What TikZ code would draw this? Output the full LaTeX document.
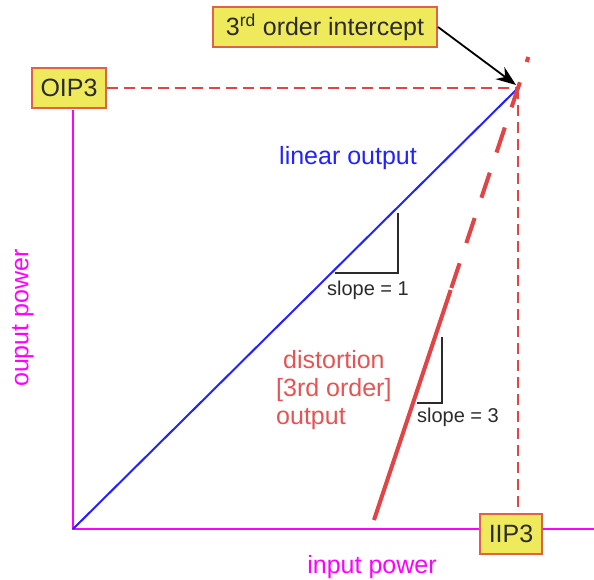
\documentclass[tikz,border=0pt]{standalone}
\usepackage{fontspec}
\setmainfont{Liberation Sans}
\usetikzlibrary{arrows.meta}
\definecolor{axismag}{HTML}{FF00FF}
\definecolor{linblue}{HTML}{2222FF}
\definecolor{distred}{HTML}{E04444}
\definecolor{labelred}{HTML}{E45454}
\definecolor{boxfill}{HTML}{EEEA5C}
\definecolor{boxedge}{HTML}{E06048}
\definecolor{inktext}{HTML}{2B2B2B}
\begin{document}
\begin{tikzpicture}[x=1pt,y=-1pt,
  tag/.style={draw=boxedge, line width=2pt, fill=boxfill, text=inktext,
    font=\fontsize{25}{28}\selectfont, inner sep=0pt, minimum height=40pt},
  lbl/.style={font=\fontsize{25}{28}\selectfont},
  small/.style={font=\fontsize{20}{24}\selectfont, text=inktext, inner sep=0pt},
  guide/.style={distred, line width=1.8pt, dash pattern=on 11pt off 6pt},
  tickline/.style={inktext, line width=2pt},
  thirdline/.style={distred, line width=4pt}]
\useasboundingbox (0,0) rectangle (594,579);

% key points
\coordinate (O) at (73,529);
\coordinate (P) at (518,88);
\coordinate (Ptip) at (516,85);
\coordinate (Ytop) at (73,110);
\coordinate (Xend) at (594,529);
\coordinate (Rtop) at (528.33,57);
\coordinate (Rdash) at (451.33,288);
\coordinate (Rsolid) at (450.67,290);
\coordinate (Rbot) at (374,520);

% axes
\draw[axismag, line width=2pt] (Ytop) -- (O) -- (Xend);

% linear output, slope 1
\draw[linblue, line width=2pt] (O) -- (P);

% third-order output, slope 3
\draw[thirdline, dash pattern=on 26.4pt off 21.3pt, dash phase=21.1pt] (Rtop) -- (Rdash);
\draw[thirdline] (Rsolid) -- (Rbot);

% boxes
\node[tag, minimum width=74pt] (oip) at (69,88) {OIP3};
\node[tag, minimum width=62pt] (iip) at (511,534) {IIP3};
\node[tag, minimum width=224pt] (icpt) at (325,27) {3\textsuperscript{rd} order intercept};

% projections of the intercept
\draw[guide] (oip.east) -- (P);
\draw[guide] (P) -- (P |- iip.north);

% callout arrow
\draw[-{Stealth[length=20pt,width=15pt]}, line width=1.8pt] (icpt.east) -- (Ptip);

% slope markers
\draw[tickline] (335,273) -| (398,213);
\node[small] (s1) at (368,290) {slope = 1};
\draw[tickline] (417,403) -| (442,337);
\node[small] (s3) at (458,417) {slope = 3};

% labels
\node[lbl, text=linblue] (lin) at (348,158) {linear output};
\node[lbl, text=labelred, align=left, anchor=north west, inner sep=0pt] (dist) at (276,350)
  {\hspace{7pt}distortion\\ {[3rd order]}\\ output};
\node[lbl, text=axismag, rotate=90] (ylab) at (23,318) {ouput power};
\node[lbl, text=axismag] (xlab) at (372,567) {input power};
\end{tikzpicture}
\end{document}
